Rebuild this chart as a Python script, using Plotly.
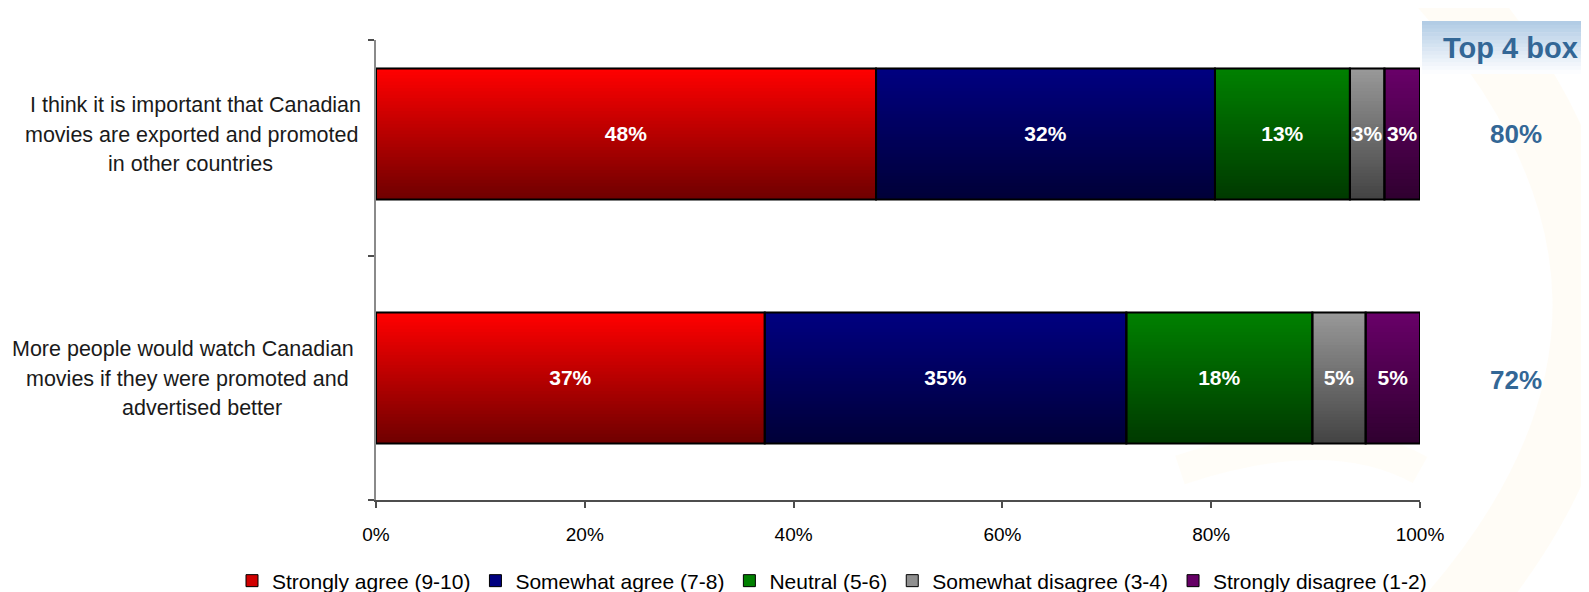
import plotly.graph_objects as go

# ---------------- data ----------------
category_lines = [
    ["I think it is important that Canadian", "movies are exported and promoted", "in other countries"],
    ["More people would watch Canadian", "movies if they were promoted and", "advertised better"],
]
series_names = [
    "Strongly agree (9-10)",
    "Somewhat agree (7-8)",
    "Neutral (5-6)",
    "Somewhat disagree (3-4)",
    "Strongly disagree (1-2)",
]
strongly_agree = [47.8, 37.2]
somewhat_agree = [32.4, 34.6]
neutral = [12.9, 17.8]
somewhat_disagree = [3.3, 5.1]
strongly_disagree = [3.4, 5.2]
x_ticks = [0, 0.2, 0.4, 0.6, 0.8, 1.0]

# ---------------- styles ----------------
top_colors = [(255, 0, 0), (0, 0, 128), (0, 128, 0), (152, 152, 152), (104, 0, 104)]
bottom_colors = [(112, 0, 0), (0, 0, 56), (0, 58, 0), (68, 68, 68), (48, 0, 48)]
mid_colors = ["#d00000", "#000080", "#008000", "#909090", "#660066"]
line_centers_px = [[195, 191, 190], [183, 187, 202]]

values = [strongly_agree, somewhat_agree, neutral, somewhat_disagree, strongly_disagree]
n_cat = len(category_lines)
totals = [sum(v[i] for v in values) for i in range(n_cat)]
fracs = [[v[i] / totals[i] for i in range(n_cat)] for v in values]
bases = []
run = [0.0] * n_cat
for f in fracs:
    bases.append(list(run))
    run = [run[i] + f[i] for i in range(n_cat)]
top_box = [round(strongly_agree[i] + somewhat_agree[i]) for i in range(n_cat)]

ypos = [1, 0]          # first category on top
BAR_W = 0.537
N_STRIPS = 40
Y_TOP = 1.385
Y_BOT = -0.5

# page has an 8px body margin: figure is drawn 8px right/down of the page origin
OFF = 8
FIG_W, FIG_H = 1589 - OFF, 592 - OFF
# plot area in page pixels: x 376..1420, y 40..500
PL, PR, PT, PB = 376, 1420, 40, 500
def xp(px):
    return (px - PL) / (PR - PL)
def yp(py):
    return (PB - py) / (PB - PT)

ARIAL = "Liberation Sans, Arial, sans-serif"

fig = go.Figure()

# legend / base layer traces
for s in range(5):
    fig.add_trace(go.Bar(
        orientation="h", y=ypos, x=fracs[s], base=bases[s], width=BAR_W,
        name=series_names[s], legendrank=s + 1,
        marker=dict(color=mid_colors[s], line=dict(color="black", width=1)),
        hoverinfo="skip", showlegend=True,
    ))

# gradient strips (vertical gradient, bright top -> dark bottom)
for s in range(5):
    t0, b0 = top_colors[s], bottom_colors[s]
    for k in range(N_STRIPS):
        t = k / (N_STRIPS - 1)
        c = tuple(round(t0[j] + (b0[j] - t0[j]) * t) for j in range(3))
        top_off = BAR_W / 2 - k * BAR_W / N_STRIPS
        bot_off = BAR_W / 2 - (k + 1) * BAR_W / N_STRIPS
        if k < N_STRIPS - 1:
            bot_off -= 0.004
        fig.add_trace(go.Bar(
            orientation="h", y=ypos, x=fracs[s], base=bases[s],
            width=top_off - bot_off, offset=bot_off,
            marker=dict(color="rgb(%d,%d,%d)" % c, line=dict(width=0)),
            hoverinfo="skip", showlegend=False,
        ))

# outline + value labels
for s in range(5):
    labels = ["%d%%" % round(values[s][i]) for i in range(n_cat)]
    fig.add_trace(go.Bar(
        orientation="h", y=ypos, x=fracs[s], base=bases[s], width=BAR_W,
        marker=dict(color="rgba(0,0,0,0)", line=dict(color="black", width=2)),
        text=labels, texttemplate="%{text}", textposition="inside",
        insidetextanchor="middle", constraintext="none", textangle=0,
        textfont=dict(color="white", size=21, family=ARIAL, weight="bold"),
        hoverinfo="skip", showlegend=False,
    ))

annotations = []
# category labels (centered multi-line)
LINE_H = 29.5
for i, lines in enumerate(category_lines):
    mid = (len(lines) - 1) / 2
    for j, line in enumerate(lines):
        annotations.append(dict(
            x=xp(line_centers_px[i][j]), xref="paper", y=ypos[i], yref="y",
            yshift=(mid - j) * LINE_H - 1,
            text=line, showarrow=False, xanchor="center", yanchor="middle",
            font=dict(family=ARIAL, size=21.5, color="#1a1a1a"),
        ))

# Top 4 box column
annotations.append(dict(
    x=xp(1510), xref="paper", y=yp(48), yref="paper", text="<b>Top 4 box</b>",
    showarrow=False, xanchor="center", yanchor="middle",
    font=dict(family=ARIAL, size=29, color="#336796"),
))
for i in range(n_cat):
    annotations.append(dict(
        x=xp(1516), xref="paper", y=ypos[i], yref="y", yshift=-2 if i == 1 else 0,
        text="<b>%d%%</b>" % top_box[i], showarrow=False,
        xanchor="center", yanchor="middle",
        font=dict(family=ARIAL, size=26, color="#336796"),
    ))

shapes = []
# very faint watermark swirl
shapes.append(dict(
    type="path", xref="paper", yref="paper", layer="below",
    path="M %f %f Q %f %f %f %f" % (xp(1440), yp(-20), xp(1730), yp(300), xp(1450), yp(620)),
    line=dict(color="rgba(252,222,150,0.09)", width=70),
))
shapes.append(dict(
    type="path", xref="paper", yref="paper", layer="below",
    path="M %f %f Q %f %f %f %f" % (xp(1180), yp(470), xp(1330), yp(420), xp(1420), yp(470)),
    line=dict(color="rgba(252,228,160,0.08)", width=30),
))
# header gradient box
n_h = 14
h_top, h_bot = 21, 73.5
c_top, c_bot = (178, 204, 229), (252, 253, 255)
for k in range(n_h):
    t = k / (n_h - 1)
    c = tuple(round(c_top[j] + (c_bot[j] - c_top[j]) * t) for j in range(3))
    y0 = h_top + (h_bot - h_top) * k / n_h
    y1 = h_top + (h_bot - h_top) * (k + 1) / n_h + 0.5
    shapes.append(dict(
        type="rect", xref="paper", yref="paper", layer="below",
        x0=xp(1422), x1=xp(1600), y0=yp(y1), y1=yp(y0),
        line=dict(width=0), fillcolor="rgb(%d,%d,%d)" % c,
    ))

fig.update_layout(
    width=FIG_W, height=FIG_H, autosize=False,
    margin=dict(l=PL - OFF, r=(FIG_W + OFF) - PR, t=PT - OFF, b=(FIG_H + OFF) - PB,
                autoexpand=False),
    barmode="overlay",
    paper_bgcolor="white", plot_bgcolor="rgba(0,0,0,0)",
    showlegend=True,
    legend=dict(
        orientation="h", x=xp(232), xanchor="left", y=yp(581), yanchor="middle",
        font=dict(family=ARIAL, size=21, color="black"),
        itemwidth=30, bgcolor="rgba(0,0,0,0)", traceorder="normal",
        itemclick=False, itemdoubleclick=False,
    ),
    xaxis=dict(
        range=[0, 1], tickvals=x_ticks, tickformat=".0%",
        showgrid=False, zeroline=False,
        showline=True, linecolor="#4d4d4d", linewidth=1.5,
        ticks="outside", ticklen=6, tickwidth=1.5, tickcolor="#4d4d4d",
        tickfont=dict(family=ARIAL, size=19, color="black"),
        ticklabelstandoff=10, layer="below traces", fixedrange=True,
    ),
    yaxis=dict(
        range=[Y_BOT, Y_TOP], tickvals=[Y_BOT, 0.5, Y_TOP], showticklabels=False,
        showgrid=False, zeroline=False,
        showline=True, linecolor="#8a8a8a", linewidth=2,
        ticks="outside", ticklen=6, tickwidth=1.5, tickcolor="#4d4d4d",
        layer="below traces", fixedrange=True,
    ),
    annotations=annotations,
    shapes=shapes,
    hovermode=False,
)

fig.write_html("out.html", config={"displayModeBar": False})
